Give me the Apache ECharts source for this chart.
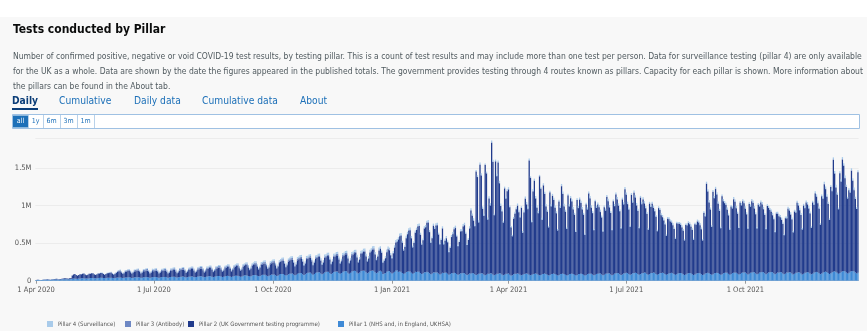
<!DOCTYPE html>
<html><head><meta charset="utf-8">
<script src="https://cdn.jsdelivr.net/npm/echarts@6/dist/echarts.min.js"></script>
<style>html,body{margin:0;padding:0;background:#fff}#c{width:867px;height:331px}</style>
</head><body><div id="c"></div>
<script>
// Daily values in thousands, one row per week starting Wed 1 Apr 2020
const startDate = [2020, 3, 1];
const seriesNames = ['Pillar 4 (Surveillance)', 'Pillar 3 (Antibody)', 'Pillar 2 (UK Government testing programme)', 'Pillar 1 (NHS and, in England, UKHSA)'];
const xTickLabels = ['1 Apr 2020', '1 Jul 2020', '1 Oct 2020', '1 Jan 2021', '1 Apr 2021', '1 Jul 2021', '1 Oct 2021'];
const yTickLabels = {0: '0', 500000: '0.5M', 1000000: '1M', 1500000: '1.5M'};

const pillar1 = [
[9,10,11,10,9,10,12],[13,14,14,12,11,13,15],[16,17,17,15,14,16,18],[19,20,21,19,18,20,22],
[26,28,30,27,25,28,30],[32,33,34,31,29,31,34],[35,36,36,33,31,33,36],[37,38,38,35,33,35,38],
[39,40,40,37,34,36,40],[42,43,43,39,36,38,42],[44,45,45,41,37,40,44],[46,47,46,42,38,41,45],
[47,48,47,43,39,42,46],[48,49,48,44,40,43,47],[50,51,50,45,41,44,49],[52,53,52,47,42,45,51],
[54,55,54,48,43,47,53],[56,57,56,50,45,49,55],[58,59,58,52,46,50,57],[60,61,60,53,47,52,59],
[62,63,62,55,49,54,61],[64,65,64,57,50,56,63],[66,67,66,58,52,57,65],[70,72,71,62,55,61,69],
[74,76,75,65,58,64,73],[78,80,79,68,61,67,77],[82,84,83,72,64,70,81],[88,90,89,77,68,75,86],
[94,96,95,82,72,80,92],[100,102,101,87,77,85,98],[106,108,107,92,81,90,104],[112,114,112,96,85,94,110],
[118,120,118,101,89,99,116],[122,124,122,104,92,102,120],[126,128,126,107,94,105,124],[130,132,130,110,96,108,128],
[132,134,132,112,98,110,130],[134,136,133,113,99,111,131],[132,120,90,95,100,120,128],[126,110,95,105,118,135,138],
[118,124,120,104,92,100,116],[120,126,122,106,94,102,118],[116,122,118,102,90,98,114],[112,118,114,98,86,95,110],
[108,114,110,95,84,92,106],[104,110,106,92,80,88,102],[100,106,102,88,78,85,98],[98,104,100,86,76,83,96],
[96,102,98,85,75,82,94],[95,100,96,84,74,80,92],[94,99,95,83,73,80,92],[94,99,95,83,73,80,92],
[92,96,80,70,72,86,92],[92,97,93,81,72,78,90],[92,97,93,81,72,78,90],[91,96,92,80,71,77,89],
[90,95,91,79,70,76,88],[90,95,91,79,70,76,88],[90,95,91,79,70,76,88],[90,95,91,79,70,76,88],
[90,95,91,79,70,76,88],[92,97,93,81,72,78,90],[94,99,95,83,73,80,92],[96,101,97,84,74,81,94],
[98,103,99,86,76,83,96],[100,105,101,88,78,85,98],[102,107,103,90,79,87,100],[104,109,105,91,80,88,102],
[104,109,105,91,80,88,102],[102,107,103,90,79,87,100],[100,105,101,88,78,85,98],[98,103,99,86,76,83,96],
[98,103,99,86,76,83,96],[98,103,99,86,76,83,96],[100,105,101,88,78,85,98],[102,107,103,90,79,87,100],
[104,109,105,91,80,88,102],[106,111,107,93,82,90,104],[108,113,109,95,83,92,106],[110,115,111,96,85,93,108],
[112,117,113,98,86,95,110],[112,117,113,98,86,95,110],[110,115,111,96,85,93,108],[108,113,109,95,83,92,106],
[108,113,109,95,83,92,106],[110,115,111,96,85,93,108],[112,117,113,98,86,95,110],[116,121,117,102,89,98,114],
[120,125,121,105,92,102,118],[124,129,125,108,95,105,122],[126,131,127,110,97,107]
];

const pillar2 = [
[1,2,2,1,1,2,3],[3,4,4,3,3,4,5],[6,7,8,6,5,7,9],[10,12,13,11,9,12,15],
[45,55,60,50,42,48,55],[55,60,62,52,45,50,58],[58,62,64,54,46,52,60],[60,65,66,56,48,54,62],
[62,66,68,57,49,55,64],[75,82,84,70,55,62,78],[78,85,86,72,56,64,80],[80,86,88,74,57,65,82],
[80,87,88,74,57,65,82],[78,84,86,72,55,63,80],[80,86,88,74,56,64,82],[84,90,92,77,58,67,86],
[88,95,96,80,60,70,90],[92,99,100,84,63,73,94],[96,103,104,87,65,76,98],[100,108,109,91,68,79,102],
[104,112,113,94,70,82,106],[110,118,119,99,74,86,112],[120,128,129,107,80,93,122],[128,136,138,115,86,100,130],
[135,144,146,120,90,105,138],[140,150,152,126,94,110,144],[150,160,162,134,100,118,154],[165,176,178,148,110,130,170],
[175,186,188,156,116,137,180],[185,196,198,165,122,145,190],[188,200,202,168,124,148,192],[190,202,204,170,126,150,195],
[195,208,210,175,130,154,200],[200,214,216,180,134,158,206],[210,224,226,188,140,166,216],[220,235,238,198,148,175,228],
[235,250,253,210,157,186,242],[260,280,284,235,175,208,270],[290,250,150,170,200,260,290],[280,230,200,260,320,370,380],
[430,470,480,400,310,350,450],[500,540,550,460,350,400,520],[560,600,610,510,390,440,580],[600,650,660,550,420,470,620],
[580,620,630,520,400,450,590],[380,420,460,420,300,350,480],[520,580,600,500,380,430,560],[560,620,640,540,400,460,600],
[840,760,700,640,1380,1300,680],[1450,1300,860,780,1470,1350,720],[1000,900,1740,1500,800,1510,1300],[1480,1200,900,840,700,1150,1000],
[1100,1120,900,640,520,740,800],[860,900,820,760,900,560,820],[1000,920,860,1520,1300,700,1100],[1240,1000,880,820,1320,1150,720],
[1180,1060,900,840,640,1100,900],[1040,980,880,820,600,980,880],[1170,1060,900,840,620,1060,900],[1010,960,860,800,580,1000,880],
[990,940,860,800,540,940,860],[1070,1000,880,820,600,980,880],[920,880,820,760,580,900,840],[1020,960,880,820,600,980,900],
[1050,980,900,840,620,1000,920],[1120,1040,920,860,640,1060,940],[1070,1000,900,840,620,1020,920],[980,920,860,800,600,940,880],
[920,860,820,760,580,880,840],[770,740,700,660,520,740,720],[690,670,640,600,480,680,660],[660,640,610,580,460,660,640],
[670,650,620,590,470,670,650],[690,670,640,600,460,820,760],[1190,1080,940,860,640,1100,1000],[1120,1040,920,840,620,1040,960],
[930,900,840,780,600,900,860],[980,940,860,800,620,950,900],[950,920,850,790,610,930,880],[950,920,850,790,610,920,880],
[930,900,840,780,600,900,860],[830,800,760,720,560,800,780],[750,730,700,660,520,740,720],[850,820,770,720,560,830,800],
[930,890,830,780,600,910,860],[930,900,850,800,620,950,900],[1050,1000,920,860,660,1030,980],[1170,1100,1000,920,720,1150,1080],
[1490,1300,1120,1040,860,1330,1200],[1490,1400,1240,1140,1000,1100,1050],[1340,1200,1080,980,860,1340]
];

const pillar3 = [
[0,0,0,0,0,0,0],[0,0,0,0,0,0,0],[0,0,0,0,0,0,0],[0,0,0,0,0,0,0],
[0,0,0,0,0,0,0],[0,0,0,0,0,0,0],[0,0,0,0,0,0,0],[0,0,0,0,0,1,2],
[3,5,6,5,4,5,7],[9,11,12,10,7,9,12],[13,15,16,13,9,11,15],[16,18,19,15,10,13,18],
[18,20,21,17,11,14,20],[18,20,20,16,11,14,19],[17,19,20,16,10,13,18],[18,20,21,16,11,14,19],
[16,18,19,15,10,13,17],[17,19,20,16,10,13,18],[18,20,20,16,11,14,19],[16,18,19,15,10,13,17],
[17,19,20,16,10,13,18],[18,20,20,16,11,14,19],[17,19,20,16,10,13,18],[16,18,19,15,10,13,17],
[18,20,20,16,11,14,19],[17,19,20,16,10,13,18],[16,18,19,15,10,13,17],[17,19,20,16,10,13,18],
[18,20,20,16,11,14,19],[17,19,20,16,10,13,18],[16,18,19,15,10,13,17],[17,19,20,16,10,13,18],
[18,20,20,16,11,14,19],[17,19,20,16,10,13,18],[16,18,19,15,10,13,17],[15,17,18,14,9,12,16],
[14,16,17,13,9,11,15],[13,15,16,12,8,10,14],[12,10,6,7,8,11,12],[10,8,7,9,10,11,11],
[9,10,10,8,5,6,9],[9,10,10,8,5,6,9],[8,9,9,7,5,6,8],[9,10,10,8,5,6,9],
[8,9,9,7,5,6,8],[7,8,8,6,4,5,7],[8,9,9,7,5,6,8],[8,9,9,7,5,6,8],
[9,10,10,8,5,6,9],[8,9,9,7,5,6,8],[9,10,10,8,5,6,9],[8,9,9,7,5,6,8],
[7,8,6,5,4,6,7],[8,9,9,7,5,6,8],[9,10,10,8,5,6,9],[8,9,9,7,5,6,8],
[8,9,9,7,5,6,8],[7,8,8,6,4,5,7],[8,9,9,7,5,6,8],[7,8,8,6,4,5,7],
[8,9,9,7,5,6,8],[7,8,8,6,4,5,7],[8,9,9,7,5,6,8],[7,8,8,6,4,5,7],
[8,9,9,7,5,6,8],[7,8,8,6,4,5,7],[8,9,9,7,5,6,8],[7,8,8,6,4,5,7],
[8,9,9,7,5,6,8],[7,8,8,6,4,5,7],[7,8,8,6,4,5,7],[8,9,9,7,5,6,8],
[7,8,8,6,4,5,7],[8,9,9,7,5,6,8],[9,10,10,8,5,6,9],[8,9,9,7,5,6,8],
[7,8,8,6,4,5,7],[8,9,9,7,5,6,8],[7,8,8,6,4,5,7],[8,9,9,7,5,6,8],
[7,8,8,6,4,5,7],[8,9,9,7,5,6,8],[7,8,8,6,4,5,7],[8,9,9,7,5,6,8],
[7,8,8,6,4,5,7],[8,9,9,7,5,6,8],[9,10,10,8,5,6,9],[8,9,9,7,5,6,8],
[9,10,10,8,5,6,9],[8,9,9,7,5,6,8],[7,8,8,6,4,5]
];

const pillar4 = [
[0,0,0,0,0,0,0],[0,0,0,0,0,0,0],[0,0,0,0,0,0,0],[0,0,0,0,0,0,0],
[0,0,0,0,0,0,0],[1,2,2,2,1,2,2],[3,3,4,3,2,3,4],[4,5,5,4,3,4,5],
[5,6,6,5,4,5,6],[7,8,9,8,6,7,9],[8,9,10,9,6,8,10],[9,10,11,9,7,8,11],
[10,11,12,10,7,9,12],[11,12,13,11,8,10,12],[11,12,13,11,8,10,13],[12,13,14,12,9,11,13],
[12,13,14,12,9,11,14],[13,14,15,13,9,11,14],[13,14,15,13,10,12,15],[14,15,16,13,10,12,15],
[14,15,16,14,10,12,16],[15,16,17,14,11,13,16],[15,16,17,15,11,13,17],[16,18,19,16,12,14,18],
[17,19,20,17,12,15,19],[18,20,21,18,13,16,20],[19,21,22,18,13,16,21],[20,22,23,19,14,17,22],
[21,23,24,20,15,18,23],[22,24,25,21,15,18,24],[22,24,25,21,15,19,24],[23,25,26,22,16,19,25],
[23,25,26,22,16,19,25],[24,26,27,22,16,20,26],[24,26,27,23,17,20,26],[25,27,28,23,17,21,27],
[25,27,28,23,17,21,27],[26,28,29,24,18,21,28],[25,22,16,18,20,24,26],[24,21,18,21,24,27,28],
[22,24,25,21,15,18,23],[23,25,26,22,16,19,24],[22,24,25,21,15,18,23],[21,23,24,20,15,18,22],
[20,22,23,19,14,17,21],[19,21,22,18,13,16,20],[20,22,23,19,14,17,21],[21,23,24,20,15,18,22],
[22,24,25,21,15,18,23],[22,24,25,21,15,18,23],[23,25,26,22,16,19,24],[22,24,25,21,15,18,23],
[20,22,17,15,14,18,21],[21,23,24,20,15,18,22],[22,24,25,21,15,18,23],[22,24,25,21,15,18,23],
[21,23,24,20,15,18,22],[21,23,24,20,15,18,22],[22,24,25,21,15,18,23],[21,23,24,20,15,18,22],
[20,22,23,19,14,17,21],[21,23,24,20,15,18,22],[20,22,23,19,14,17,21],[21,23,24,20,15,18,22],
[21,23,24,20,15,18,22],[22,24,25,21,15,18,23],[22,24,25,21,15,18,23],[21,23,24,20,15,18,22],
[20,22,23,19,14,17,21],[19,21,22,18,13,16,20],[18,20,21,17,13,15,19],[18,20,21,17,13,15,19],
[18,20,21,17,13,15,19],[19,21,22,18,13,16,20],[21,23,24,20,15,18,22],[22,24,25,21,15,18,23],
[21,23,24,20,15,18,22],[21,23,24,20,15,18,22],[22,24,25,21,15,18,23],[22,24,25,21,15,18,23],
[21,23,24,20,15,18,22],[20,22,23,19,14,17,21],[20,22,23,19,14,17,21],[21,23,24,20,15,18,22],
[22,24,25,21,15,18,23],[22,24,25,21,15,18,23],[23,25,26,22,16,19,24],[24,26,27,23,17,20,25],
[25,27,28,24,17,21,26],[26,28,29,24,18,21,27],[26,28,29,24,18,21]
];

const months = ['Jan','Feb','Mar','Apr','May','Jun','Jul','Aug','Sep','Oct','Nov','Dec'];
function flat(rows) { const out = []; rows.forEach(r => r.forEach(v => out.push(v * 1000))); return out; }
const p1 = flat(pillar1), p2 = flat(pillar2), p3 = flat(pillar3), p4 = flat(pillar4);
const categories = [];
for (let i = 0; i < p2.length; i++) {
  const d = new Date(Date.UTC(startDate[0], startDate[1], startDate[2] + i));
  categories.push(d.getUTCDate() + ' ' + months[d.getUTCMonth()] + ' ' + d.getUTCFullYear());
}
const isTick = (idx, val) => xTickLabels.indexOf(val) >= 0;

const FONT = "'Liberation Sans Narrow','DejaVu Sans Condensed','Roboto',sans-serif";
const blue = '#1d70b8';
const desc = [
 'Number of confirmed positive, negative or void COVID-19 test results, by testing pillar. This is a count of test results and may include more than one test per person. Data for surveillance testing (pillar 4) are only available',
 'for the UK as a whole. Data are shown by the date the figures appeared in the published totals. The government provides testing through 4 routes known as pillars. Capacity for each pillar is shown. More information about',
 'the pillars can be found in the About tab.'
];
const graphics = [
  {type:'rect', shape:{x:0,y:0,width:867,height:17}, style:{fill:'#ffffff'}, silent:true},
  {type:'text', x:13, y:30, style:{text:'Tests conducted by Pillar', font:"bold 12px " + FONT, fill:'#0b0c0c', textVerticalAlign:'middle'}},
];
desc.forEach((t, i) => graphics.push({type:'text', x:13, y:57 + i*14.7, style:{text:t, font:"8.5px " + FONT, fill:'#505a5f', textVerticalAlign:'middle'}}));
const tabs = [['Daily',12,true],['Cumulative',59,false],['Daily data',134,false],['Cumulative data',202,false],['About',300,false]];
tabs.forEach(t => graphics.push({type:'text', x:t[1], y:101, style:{text:t[0], font:(t[2]?'bold ':'') + "10.2px " + FONT, fill: t[2] ? '#0b3d78' : blue, textVerticalAlign:'middle'}}));
graphics.push({type:'rect', shape:{x:12,y:108,width:26,height:2}, style:{fill:'#0b3d78'}});
graphics.push({type:'rect', shape:{x:12.5,y:114.5,width:847,height:14}, style:{fill:'#ffffff', stroke:'#9fc1e3', lineWidth:1}});
const btns = [['all',13,15],['1y',28,15],['6m',43,17],['3m',60,17],['1m',77,17]];
btns.forEach((b, i) => {
  if (i === 0) graphics.push({type:'rect', shape:{x:b[1],y:115.5,width:b[2],height:12}, style:{fill:blue}});
  else graphics.push({type:'line', shape:{x1:b[1]+0.5,y1:115,x2:b[1]+0.5,y2:128}, style:{stroke:'#b9d2ea', lineWidth:1}});
  graphics.push({type:'text', x:b[1] + b[2]/2, y:121.5, style:{text:b[0], font:"7px " + FONT, fill: i === 0 ? '#ffffff' : blue, textAlign:'center', textVerticalAlign:'middle'}});
});
graphics.push({type:'line', shape:{x1:94.5,y1:115,x2:94.5,y2:128}, style:{stroke:'#b9d2ea', lineWidth:1}});

const colors = {p4:'#a9cbea', p3:'#6e88c4', p2:'#213b8c', p1:'#3f8ad6'};
const legendLeft = [42, 120, 183, 333];
const legends = seriesNames.map((n, i) => ({
  data: [n], left: legendLeft[i], top: 316, itemWidth: 6, itemHeight: 6, icon: 'rect',
  textStyle: {fontSize: 6, color: '#555', fontFamily: FONT}
}));
const chart = echarts.init(document.getElementById('c'), null, {renderer:'canvas'});
chart.setOption({
  animation:false,
  backgroundColor:'#f8f8f8',
  graphic: graphics,
  legend: legends,
  grid: {left: 35.4, right: 8.4, top: 138.2, bottom: 50.3},
  xAxis: {
    type: 'category', data: categories, boundaryGap: true,
    axisLine: {show: true, lineStyle: {color: '#cfcfcf'}},
    axisTick: {show: true, interval: isTick, alignWithLabel: true, length: 3, lineStyle: {color: '#999'}},
    axisLabel: {interval: isTick, fontSize: 7.5, color: '#555', fontFamily: FONT, margin: 5}
  },
  yAxis: {
    type: 'value', min: 0, max: 1900000, interval: 500000,
    axisLine: {show: false}, axisTick: {show: false},
    splitLine: {show: true, lineStyle: {color: '#ececec'}},
    axisLabel: {showMaxLabel: false, fontSize: 7.5, color: '#555', fontFamily: FONT, margin: 4,
      formatter: v => (yTickLabels[v] !== undefined ? yTickLabels[v] : '')}
  },
  series: [
    {name: seriesNames[3], type: 'bar', stack: 't', data: p1, itemStyle: {color: colors.p1}, barCategoryGap: '0%'},
    {name: seriesNames[2], type: 'bar', stack: 't', data: p2, itemStyle: {color: colors.p2}},
    {name: seriesNames[1], type: 'bar', stack: 't', data: p3, itemStyle: {color: colors.p3}},
    {name: seriesNames[0], type: 'bar', stack: 't', data: p4, itemStyle: {color: colors.p4}}
  ]
});
</script></body></html>
